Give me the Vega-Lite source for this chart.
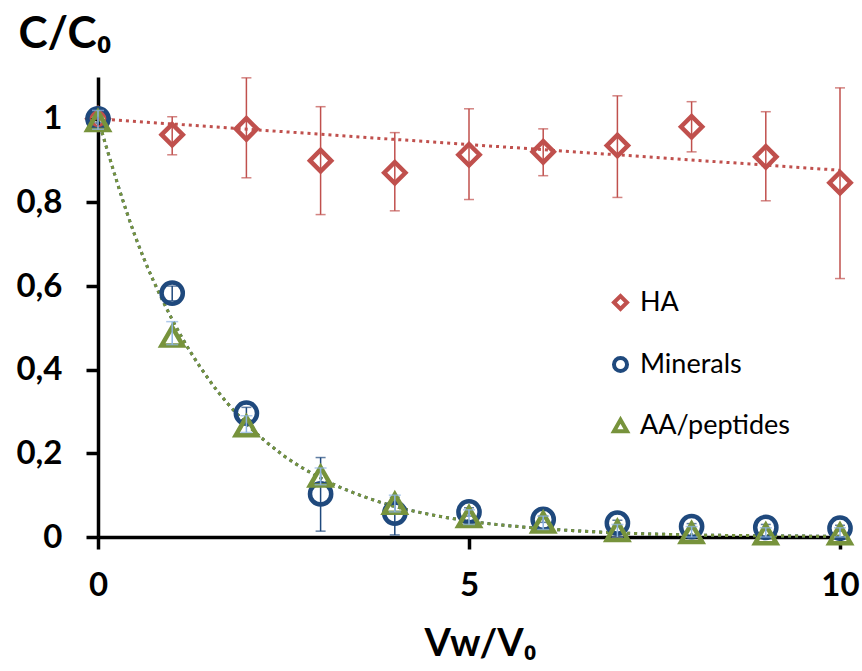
{
  "$schema": "https://vega.github.io/schema/vega-lite/v6.json",
  "autosize": {"type": "none"},
  "width": 742,
  "height": 460,
  "padding": {"left": 98, "top": 77, "right": 22, "bottom": 134},
  "background": "white",
  "config": {
    "view": {"stroke": null},
    "font": "Lato",
    "axis": {"grid": false, "labelFlush": false, "domainColor": "black", "domainWidth": 3.5, "tickColor": "black", "tickWidth": 3.5, "tickSize": 12, "labelFont": "Lato", "labelFontWeight": "bold", "labelFontSize": 33, "labelColor": "black", "titleFont": "Lato", "titleFontWeight": "bold", "titleColor": "black"}
  },
  "datasets": {
    "pts": [
      {"x": 0, "y": 1.0, "lo": 1.0, "hi": 1.0, "series": "HA"},
      {"x": 1, "y": 0.962, "lo": 0.914, "hi": 1.005, "series": "HA"},
      {"x": 2, "y": 0.976, "lo": 0.859, "hi": 1.098, "series": "HA"},
      {"x": 3, "y": 0.9, "lo": 0.771, "hi": 1.029, "series": "HA"},
      {"x": 4, "y": 0.871, "lo": 0.78, "hi": 0.967, "series": "HA"},
      {"x": 5, "y": 0.914, "lo": 0.807, "hi": 1.024, "series": "HA"},
      {"x": 6, "y": 0.921, "lo": 0.864, "hi": 0.976, "series": "HA"},
      {"x": 7, "y": 0.936, "lo": 0.812, "hi": 1.055, "series": "HA"},
      {"x": 8, "y": 0.981, "lo": 0.921, "hi": 1.041, "series": "HA"},
      {"x": 9, "y": 0.909, "lo": 0.804, "hi": 1.017, "series": "HA"},
      {"x": 10, "y": 0.847, "lo": 0.618, "hi": 1.074, "series": "HA"},
      {"x": 0, "y": 1.0, "lo": 0.99, "hi": 1.01, "series": "Minerals"},
      {"x": 1, "y": 0.583, "lo": 0.565, "hi": 0.6, "series": "Minerals"},
      {"x": 2, "y": 0.296, "lo": 0.28, "hi": 0.31, "series": "Minerals"},
      {"x": 3, "y": 0.103, "lo": 0.014, "hi": 0.19, "series": "Minerals"},
      {"x": 4, "y": 0.057, "lo": 0.005, "hi": 0.095, "series": "Minerals"},
      {"x": 5, "y": 0.06, "lo": 0.05, "hi": 0.07, "series": "Minerals"},
      {"x": 6, "y": 0.042, "lo": 0.035, "hi": 0.05, "series": "Minerals"},
      {"x": 7, "y": 0.033, "lo": 0.026, "hi": 0.04, "series": "Minerals"},
      {"x": 8, "y": 0.025, "lo": 0.018, "hi": 0.032, "series": "Minerals"},
      {"x": 9, "y": 0.023, "lo": 0.016, "hi": 0.03, "series": "Minerals"},
      {"x": 10, "y": 0.021, "lo": 0.014, "hi": 0.028, "series": "Minerals"},
      {"x": 0, "y": 0.995, "lo": 0.975, "hi": 1.02, "series": "AA/peptides"},
      {"x": 1, "y": 0.48, "lo": 0.46, "hi": 0.515, "series": "AA/peptides"},
      {"x": 2, "y": 0.265, "lo": 0.25, "hi": 0.29, "series": "AA/peptides"},
      {"x": 3, "y": 0.145, "lo": 0.125, "hi": 0.165, "series": "AA/peptides"},
      {"x": 4, "y": 0.08, "lo": 0.06, "hi": 0.1, "series": "AA/peptides"},
      {"x": 5, "y": 0.048, "lo": 0.03, "hi": 0.065, "series": "AA/peptides"},
      {"x": 6, "y": 0.035, "lo": 0.018, "hi": 0.05, "series": "AA/peptides"},
      {"x": 7, "y": 0.015, "lo": 0.0, "hi": 0.03, "series": "AA/peptides"},
      {"x": 8, "y": 0.01, "lo": 0.0, "hi": 0.025, "series": "AA/peptides"},
      {"x": 9, "y": 0.007, "lo": 0.0, "hi": 0.022, "series": "AA/peptides"},
      {"x": 10, "y": 0.007, "lo": 0.0, "hi": 0.022, "series": "AA/peptides"}
    ],
    "trend": [
      {"x": 0, "y": 1.0, "series": "HA fit"},
      {"x": 10, "y": 0.877, "series": "HA fit"},
      {"x": 0, "y": 1.0, "series": "decay fit"},
      {"x": 0.5, "y": 0.72, "series": "decay fit"},
      {"x": 1, "y": 0.52, "series": "decay fit"},
      {"x": 1.5, "y": 0.375, "series": "decay fit"},
      {"x": 2, "y": 0.271, "series": "decay fit"},
      {"x": 2.5, "y": 0.195, "series": "decay fit"},
      {"x": 3, "y": 0.141, "series": "decay fit"},
      {"x": 3.5, "y": 0.102, "series": "decay fit"},
      {"x": 4, "y": 0.073, "series": "decay fit"},
      {"x": 4.5, "y": 0.053, "series": "decay fit"},
      {"x": 5, "y": 0.038, "series": "decay fit"},
      {"x": 6, "y": 0.02, "series": "decay fit"},
      {"x": 7, "y": 0.01, "series": "decay fit"},
      {"x": 8, "y": 0.005, "series": "decay fit"},
      {"x": 9, "y": 0.003, "series": "decay fit"},
      {"x": 10, "y": 0.0015, "series": "decay fit"}
    ]
  },
  "layer": [
    {
      "data": {"name": "trend"},
      "transform": [{"filter": "datum.series == 'HA fit'"}],
      "mark": {"type": "line", "color": "#C0504D", "strokeWidth": 3, "strokeDash": [3, 4], "clip": false},
      "encoding": {
        "x": {"field": "x", "type": "quantitative", "title": "Vw/V₀", "scale": {"domain": [0, 10], "nice": false},
          "axis": {"values": [0, 5, 10], "format": "d", "titleFontSize": 38, "labelPadding": 20, "titleX": 382, "titleY": 118, "titleAlign": "center", "titleBaseline": "alphabetic", "titleAnchor": null}},
        "y": {"field": "y", "type": "quantitative", "title": "C/C₀", "scale": {"domain": [0, 1.1], "nice": false},
          "axis": {"values": [0, 0.2, 0.4, 0.6, 0.8, 1.0], "labelExpr": "datum.value == 0 ? '0' : datum.value == 1 ? '1' : replace(format(datum.value, '.1f'), '.', ',')", "labelPadding": 24, "titleFontSize": 44, "titleAngle": 0, "titleAlign": "left", "titleBaseline": "alphabetic", "titleX": -80, "titleY": -30, "titleAnchor": null}}
      }
    },
    {
      "data": {"name": "trend"},
      "transform": [{"filter": "datum.series == 'decay fit'"}],
      "mark": {"type": "line", "color": "#1F497D", "strokeWidth": 3, "strokeDash": [3, 4], "interpolate": "monotone"},
      "encoding": {"x": {"field": "x", "type": "quantitative", "title": "Vw/V₀"}, "y": {"field": "y", "type": "quantitative", "title": "C/C₀"}}
    },
    {
      "data": {"name": "trend"},
      "transform": [{"filter": "datum.series == 'decay fit'"}],
      "mark": {"type": "line", "color": "#77933C", "strokeWidth": 3, "strokeDash": [3, 4], "interpolate": "monotone"},
      "encoding": {"x": {"field": "x", "type": "quantitative", "title": "Vw/V₀"}, "y": {"field": "y", "type": "quantitative", "title": "C/C₀"}}
    },
    {
      "data": {"name": "pts"},
      "transform": [{"filter": "datum.series == 'HA'"}],
      "mark": {"type": "errorbar", "color": "#C0504D", "thickness": 1.5, "ticks": {"size": 10, "thickness": 1.5, "color": "#C0504D"}},
      "encoding": {"x": {"field": "x", "type": "quantitative", "title": "Vw/V₀"}, "y": {"field": "lo", "type": "quantitative", "title": "C/C₀"}, "y2": {"field": "hi"}}
    },
    {
      "data": {"name": "pts"},
      "transform": [{"filter": "datum.series == 'Minerals'"}],
      "mark": {"type": "errorbar", "color": "#1F497D", "thickness": 1.5, "ticks": {"size": 10, "thickness": 1.5, "color": "#1F497D"}},
      "encoding": {"x": {"field": "x", "type": "quantitative", "title": "Vw/V₀"}, "y": {"field": "lo", "type": "quantitative", "title": "C/C₀"}, "y2": {"field": "hi"}}
    },
    {
      "data": {"name": "pts"},
      "mark": {"type": "point", "filled": false, "strokeWidth": 4.5, "size": 450, "opacity": 1, "clip": false},
      "encoding": {
        "x": {"field": "x", "type": "quantitative", "title": "Vw/V₀"},
        "y": {"field": "y", "type": "quantitative", "title": "C/C₀"},
        "shape": {"field": "series", "type": "nominal", "scale": {"domain": ["HA", "Minerals", "AA/peptides"], "range": ["diamond", "circle", "triangle-up"]}},
        "color": {"field": "series", "type": "nominal", "scale": {"domain": ["HA", "Minerals", "AA/peptides"], "range": ["#C0504D", "#1F497D", "#77933C"]},
          "legend": {"title": null, "orient": "none", "legendX": 509, "legendY": 212, "labelFont": "Lato", "labelFontSize": 27, "labelColor": "black", "symbolSize": 170, "symbolStrokeWidth": 4, "rowPadding": 31, "labelOffset": 6}}
      }
    },
    {
      "data": {"name": "pts"},
      "transform": [{"filter": "datum.series == 'AA/peptides'"}],
      "mark": {"type": "errorbar", "color": "#8DB4E2", "thickness": 1.5, "ticks": {"size": 12, "thickness": 1.5, "color": "#8DB4E2"}},
      "encoding": {"x": {"field": "x", "type": "quantitative", "title": "Vw/V₀"}, "y": {"field": "lo", "type": "quantitative", "title": "C/C₀"}, "y2": {"field": "hi"}}
    }
  ]
}
